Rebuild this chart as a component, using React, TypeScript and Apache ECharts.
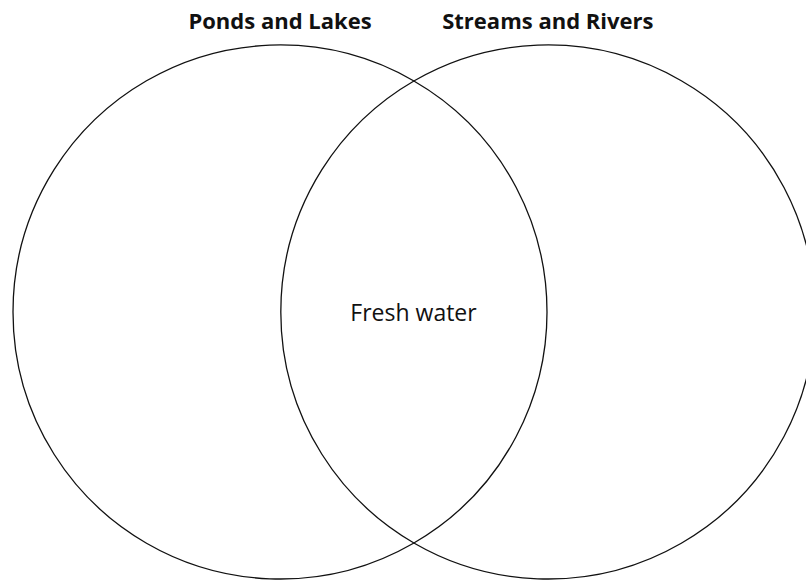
import React, { useEffect, useRef } from "react";
import * as echarts from "echarts";

// Venn sets: name, centre x, centre y, radius (abstract units)
const setNames = ["Ponds and Lakes", "Streams and Rivers"];
const setCentersX = [0, 1.003];
const setCentersY = [0, 0];
const setRadii = [1, 1];
// Overlap label
const overlapLabels = ["Fresh water"];
const overlapX = [0.5];
const overlapY = [0];

export default function App() {
  const ref = useRef<HTMLDivElement>(null);
  useEffect(() => {
    if (!ref.current) return;
    const chart = echarts.init(ref.current, null, { renderer: "svg" });
    const circleData = setNames.map((n, i) => [setCentersX[i], setCentersY[i], setRadii[i], n]);
    const overlapData = overlapLabels.map((n, i) => [overlapX[i], overlapY[i], n]);
    chart.setOption({
      animation: false,
      backgroundColor: "#ffffff",
      grid: { left: 0, right: 0, top: 0, bottom: 0 },
      xAxis: { type: "value", min: -1.0487, max: 1.9700, show: false },
      yAxis: { type: "value", min: -1.0075, max: 1.1685, show: false },
      series: [
        {
          type: "custom",
          coordinateSystem: "cartesian2d",
          data: circleData,
          clip: false,
          renderItem: (params: any, api: any) => {
            const c = api.coord([api.value(0), api.value(1)]);
            const s = api.size([api.value(2), api.value(2)]);
            const r = s[0];
            const name = setNames[params.dataIndex];
            return {
              type: "group",
              children: [
                {
                  type: "circle",
                  shape: { cx: c[0], cy: c[1], r },
                  style: { fill: "none", stroke: "#111", lineWidth: 1.3 },
                },
                {
                  type: "text",
                  x: c[0],
                  y: c[1] - r - 24.5,
                  style: {
                    text: name,
                    fill: "#111",
                    font: "bold 22px 'Open Sans', 'Noto Sans', sans-serif",
                    align: "center",
                    verticalAlign: "middle",
                  },
                },
              ],
            };
          },
        },
        {
          type: "custom",
          coordinateSystem: "cartesian2d",
          data: overlapData,
          renderItem: (params: any, api: any) => {
            const c = api.coord([api.value(0), api.value(1)]);
            return {
              type: "text",
              x: c[0],
              y: c[1],
              style: {
                text: overlapLabels[params.dataIndex],
                fill: "#111",
                font: "23px 'Open Sans', 'Noto Sans', sans-serif",
                align: "center",
                verticalAlign: "middle",
              },
            };
          },
        },
      ],
    });
    return () => chart.dispose();
  }, []);
  return (
    <div
      ref={ref}
      style={{ position: "fixed", left: 0, top: 0, width: 806, height: 581, background: "#fff" }}
    />
  );
}
